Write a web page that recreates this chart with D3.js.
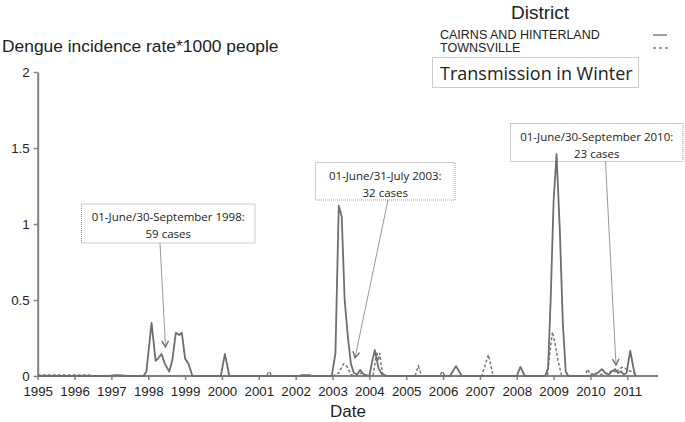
<!DOCTYPE html>
<html><head><meta charset="utf-8">
<script src="https://cdn.jsdelivr.net/npm/d3@7"></script>
<style>body{margin:0;background:#fff}svg{display:block}</style>
</head><body>
<svg id="c" width="685" height="422"></svg>
<script>
// ---- data ----
const years = d3.range(1995, 2012);
const yTicks = [0, 0.5, 1, 1.5, 2];
const cairnsDates = [1995.0,1996.95,1997.1,1997.3,1997.4,1997.87,1997.95,1998.09,1998.2,1998.28,1998.36,1998.45,1998.57,1998.65,1998.75,1998.84,1998.91,1999.0,1999.09,1999.2,1999.97,2000.08,2000.2,2002.1,2002.15,2002.4,2002.45,2002.98,2003.08,2003.17,2003.25,2003.33,2003.42,2003.5,2003.58,2003.67,2003.75,2003.85,2004.0,2004.08,2004.15,2004.25,2004.35,2004.5,2006.19,2006.35,2006.51,2008.0,2008.1,2008.22,2008.77,2008.85,2008.92,2009.0,2009.08,2009.17,2009.25,2009.33,2009.4,2010.0,2010.1,2010.2,2010.31,2010.4,2010.5,2010.58,2010.67,2010.75,2010.83,2010.9,2010.98,2011.08,2011.2,2011.25];
const cairnsValues = [0,0,0.006,0.004,0,0,0.03,0.35,0.10,0.12,0.145,0.08,0.03,0.1,0.285,0.27,0.285,0.115,0.08,0,0,0.145,0,0,0.005,0.005,0,0,0.15,1.12,1.05,0.5,0.25,0.08,0.02,0.01,0.04,0.01,0,0.1,0.17,0.05,0.01,0,0,0.065,0,0,0.06,0,0,0.05,0.5,1.15,1.46,0.95,0.35,0.03,0,0,0.01,0.02,0.045,0.02,0.01,0.03,0.045,0.02,0.03,0.01,0.02,0.166,0.01,0];
const townsvilleDates = [1995.0,1996.4,1996.5,2001.2,2001.28,2001.36,2003.0,2003.17,2003.3,2003.4,2003.5,2003.6,2003.8,2003.9,2004.1,2004.2,2004.24,2004.28,2004.35,2004.45,2005.24,2005.33,2005.42,2005.9,2005.98,2006.05,2007.05,2007.23,2007.36,2008.83,2008.92,2008.97,2009.05,2009.12,2009.22,2009.85,2009.92,2010.0,2010.1,2010.3,2010.5,2010.6,2010.7,2010.8,2010.9,2011.0,2011.1,2011.2,2011.25];
const townsvilleValues = [0.006,0.006,0,0,0.03,0,0,0.02,0.08,0.06,0.01,0,0.02,0,0,0.16,0.1,0.15,0.02,0,0,0.065,0,0,0.03,0,0,0.14,0,0,0.2,0.29,0.2,0.1,0,0,0.045,0.01,0.02,0.01,0.02,0.04,0.02,0.05,0.06,0.04,0.03,0.02,0];
const seriesNames = ["CAIRNS AND HINTERLAND", "TOWNSVILLE"];
const annotationTexts = [
  ["01-June/30-September  1998:", "59 cases"],
  ["01-June/31-July 2003:", "32 cases"],
  ["01-June/30-September  2010:", "23 cases"]
];

// ---- layout ----
const svg = d3.select("#c");
const x = d3.scaleLinear().domain([1995, 2011]).range([37.7, 627.3]);
const y = d3.scaleLinear().domain([0, 2]).range([376, 72]);
const grey = "#808080";
const sans = "Liberation Sans, Arial, sans-serif";

// annotation boxes & arrows (pixel layout)
const annLayout = [
  {box:[81.5, 204, 255, 243], from:[160, 243], to:[165.5, 347]},
  {box:[315.5, 162.5, 455, 200], from:[388, 200], to:[355, 358]},
  {box:[510.5, 123.5, 683, 161.5], from:[605.5, 161.5], to:[616, 365]}
];

// axes
const xAxis = svg.append("g").attr("transform","translate(0,376)")
  .call(d3.axisBottom(x).tickValues(years).tickFormat(d3.format("d")).tickSize(4).tickSizeOuter(0));
xAxis.select(".domain").remove();
svg.append("line").attr("x1",37.7).attr("x2",658).attr("y1",376).attr("y2",376).attr("stroke",grey).attr("stroke-width",2);
xAxis.selectAll(".tick line").attr("stroke",grey).attr("stroke-width",1.5);
xAxis.selectAll("text").attr("font-family",sans).attr("font-size",13.3).attr("fill","#222").attr("dy","0.95em");

const yAxis = svg.append("g").attr("transform","translate(37.7,0)")
  .call(d3.axisLeft(y).tickValues(yTicks).tickFormat(d => d3.format("")(d)).tickSize(4).tickSizeOuter(0));
yAxis.select(".domain").attr("stroke",grey).attr("stroke-width",2);
yAxis.selectAll(".tick line").attr("stroke",grey).attr("stroke-width",1.5);
yAxis.selectAll("text").attr("font-family",sans).attr("font-size",13.3).attr("fill","#222").attr("x",-8);

svg.append("text").attr("x",2).attr("y",52).text("Dengue incidence rate*1000 people")
  .attr("font-family",sans).attr("font-size",17.4).attr("fill","#222");
svg.append("text").attr("x",348).attr("y",417).attr("text-anchor","middle").text("Date")
  .attr("font-family",sans).attr("font-size",17).attr("fill","#222");

// legend
svg.append("text").attr("x",540).attr("y",19).attr("text-anchor","middle").text("District")
  .attr("font-family",sans).attr("font-size",19).attr("fill","#222");
svg.append("text").attr("x",440).attr("y",39).text(seriesNames[0])
  .attr("font-family",sans).attr("font-size",12.5).attr("fill","#222");
svg.append("text").attr("x",440).attr("y",52).text(seriesNames[1])
  .attr("font-family",sans).attr("font-size",12.5).attr("fill","#222");
svg.append("line").attr("x1",653).attr("x2",667).attr("y1",35).attr("y2",35).attr("stroke",grey).attr("stroke-width",1.5);
svg.append("line").attr("x1",653).attr("x2",669).attr("y1",48).attr("y2",48).attr("stroke",grey).attr("stroke-width",1.5).attr("stroke-dasharray","3,3");
svg.append("rect").attr("x",432.5).attr("y",57.5).attr("width",206).attr("height",30).attr("fill","#fff")
  .attr("stroke","#999").attr("stroke-dasharray","1,1");
svg.append("text").attr("x",440).attr("y",80).text("Transmission in Winter")
  .attr("font-family","Open Sans, sans-serif").attr("font-size",18).attr("fill","#222");

// annotations
const ann = svg.append("g");
annLayout.forEach((a,i) => {
  const [x0,y0,x1,y1] = a.box;
  ann.append("rect").attr("x",x0).attr("y",y0).attr("width",x1-x0).attr("height",y1-y0)
    .attr("fill","#fff").attr("stroke","#999").attr("stroke-dasharray","1,1");
  const cx = (x0+x1)/2;
  annotationTexts[i].forEach((t,j) => ann.append("text").attr("x",cx).attr("y",y0+17+j*17).attr("text-anchor","middle")
    .text(t).attr("font-family","Open Sans, sans-serif").attr("font-size",11.5).attr("fill","#222"));
  const [fx,fy] = a.from, [tx,ty] = a.to;
  ann.append("line").attr("x1",fx).attr("y1",fy).attr("x2",tx).attr("y2",ty).attr("stroke","#999").attr("stroke-width",1);
  const ang = Math.atan2(ty-fy, tx-fx), L = 7, w = 0.5;
  const p = [[tx - L*Math.cos(ang-w), ty - L*Math.sin(ang-w)],[tx,ty],[tx - L*Math.cos(ang+w), ty - L*Math.sin(ang+w)]];
  ann.append("path").attr("d", d3.line()(p)).attr("fill","none").attr("stroke","#666").attr("stroke-width",1.3);
});

// series
const line = d3.line().x(d => x(d[0])).y(d => y(d[1]));
const tData = townsvilleDates.map((d,i)=>[d, townsvilleValues[i]]);
const cData = cairnsDates.map((d,i)=>[d, cairnsValues[i]]);
svg.append("path").datum(tData).attr("d",line).attr("fill","none").attr("stroke","#7a7a7a").attr("stroke-width",1.5).attr("stroke-dasharray","3,2");
svg.append("path").datum(cData).attr("d",line).attr("fill","none").attr("stroke","#6e6e6e").attr("stroke-width",1.8).attr("stroke-linejoin","round");
</script>
</body></html>
